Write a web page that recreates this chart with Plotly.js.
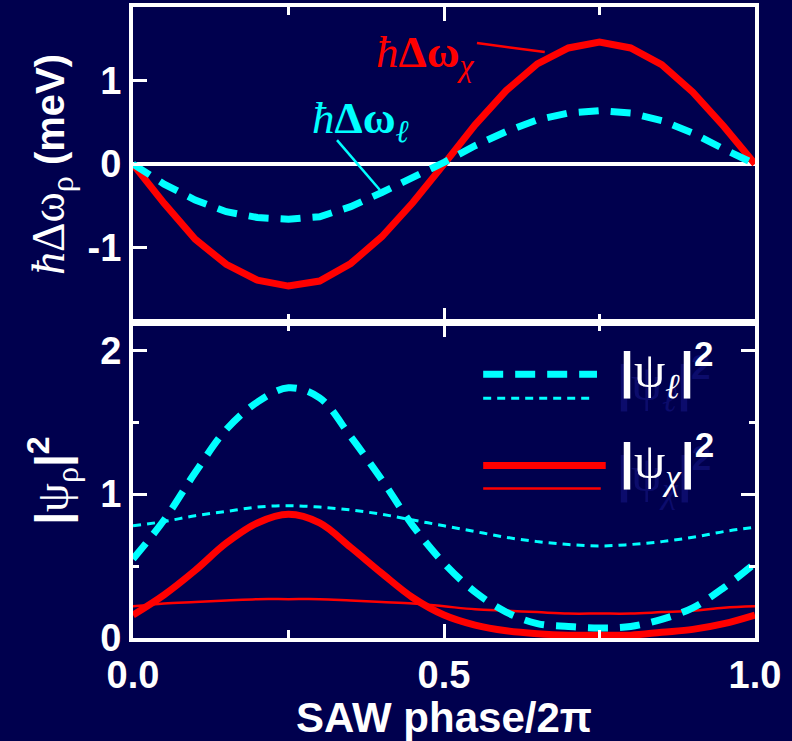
<!DOCTYPE html>
<html>
<head>
<meta charset="utf-8">
<script src="https://cdn.plot.ly/plotly-3.0.1.min.js"></script>
<style>html,body{margin:0;padding:0;background:#00004e;}</style>
</head>
<body>
<div id="chart" style="width:792px;height:741px;"></div>
<script>
// ---- data ----
const phase = [0,0.05,0.1,0.15,0.2,0.25,0.3,0.35,0.4,0.45,0.5,0.55,0.6,0.65,0.7,0.75,0.8,0.85,0.9,0.95,1.0];

// top panel: energy shifts (meV)
const dOmegaChi = [0,-0.47,-0.90,-1.20,-1.39,-1.46,-1.40,-1.19,-0.87,-0.46,0.0,0.47,0.88,1.20,1.39,1.46,1.39,1.19,0.86,0.45,0.0];
const dOmegaEll = [0,-0.24,-0.43,-0.57,-0.64,-0.66,-0.63,-0.51,-0.34,-0.17,0.02,0.22,0.39,0.53,0.61,0.64,0.61,0.52,0.37,0.18,0.0];

// bottom panel: |psi|^2
const psiEllThick = [0.55,0.82,1.15,1.45,1.64,1.74,1.67,1.40,1.10,0.78,0.52,0.32,0.18,0.10,0.08,0.07,0.08,0.13,0.21,0.35,0.52];
const psiEllThin  = [0.78,0.81,0.85,0.88,0.91,0.92,0.91,0.89,0.86,0.82,0.78,0.74,0.70,0.67,0.65,0.64,0.65,0.67,0.70,0.74,0.77];
const psiChiThick = [0.16,0.30,0.47,0.66,0.80,0.86,0.80,0.63,0.45,0.28,0.16,0.09,0.05,0.03,0.02,0.02,0.02,0.04,0.06,0.10,0.16];
const psiChiThin  = [0.22,0.24,0.25,0.26,0.27,0.27,0.27,0.26,0.25,0.24,0.22,0.20,0.19,0.18,0.17,0.17,0.17,0.18,0.19,0.21,0.22];

const xTickVals = [0,0.5,1];
const xTickText = ['0.0','0.5','1.0'];
const yTopTickVals = [-1,0,1];
const yTopTickText = ['-1','0','1'];
const yBotTickVals = [0,1,2];
const yBotTickText = ['0','1','2'];

// ---- styling ----
const BG = '#00004e';
const RED = '#ff0000';
const CYAN = '#00ffff';
const WHITE = '#ffffff';
const SANS = 'Liberation Sans, Arial, sans-serif';
const SERIF = 'Liberation Serif, Times New Roman, serif';
const tickFont = {family: SANS, size: 38, color: WHITE, weight: 'bold'};

const traces = [
  {x: phase, y: dOmegaChi, xaxis: 'x2', yaxis: 'y2', mode: 'lines', line: {color: RED, width: 7}},
  {x: phase, y: dOmegaEll, xaxis: 'x2', yaxis: 'y2', mode: 'lines', line: {color: CYAN, width: 7, dash: '20px,12px'}},
  {x: phase, y: psiChiThin, xaxis: 'x', yaxis: 'y', mode: 'lines', line: {color: RED, width: 2.5, shape: 'spline'}},
  {x: phase, y: psiEllThin, xaxis: 'x', yaxis: 'y', mode: 'lines', line: {color: CYAN, width: 3, dash: '8px,6px', shape: 'spline'}},
  {x: phase, y: psiChiThick, xaxis: 'x', yaxis: 'y', mode: 'lines', line: {color: RED, width: 7, shape: 'spline'}},
  {x: phase, y: psiEllThick, xaxis: 'x', yaxis: 'y', mode: 'lines', line: {color: CYAN, width: 7, dash: '20px,12px', shape: 'spline'}}
];

const axBase = {
  showline: true, linecolor: WHITE, linewidth: 4,
  showgrid: false, zeroline: false,
  ticks: 'inside', tickcolor: WHITE, tickwidth: 3, ticklen: 14,
  tickfont: tickFont
};

const serifSpan = (t) => '<span style="font-family:' + SERIF + ';font-weight:normal">' + t + '</span>';
const legendLabel = (sub) => '|' + serifSpan('ψ') + '<sub>' + serifSpan('<i>' + sub + '</i>') + '</sub>|<sup>2</sup>';

const annFont = (c) => ({family: SANS, size: 50, color: c, weight: 'bold'});

const layout = {
  width: 792, height: 741,
  paper_bgcolor: BG, plot_bgcolor: BG,
  margin: {l: 133, r: 37, t: 7, b: 103},
  showlegend: false,
  xaxis: Object.assign({}, axBase, {
    anchor: 'y', range: [0, 1], tickvals: xTickVals, ticktext: xTickText,
    mirror: 'ticks',
    minor: {dtick: 0.25, ticks: 'inside', ticklen: 8, tickwidth: 3, tickcolor: WHITE},
    title: {text: '\u2002SAW phase/2π', font: {family: SANS, size: 42, color: WHITE, weight: 'bold'}, standoff: 4}
  }),
  yaxis: Object.assign({}, axBase, {
    anchor: 'x', domain: [0, 0.4992], range: [0, 2.19], tickvals: yBotTickVals, ticktext: yBotTickText, mirror: 'ticks',
    minor: {dtick: 0.5, ticks: 'inside', ticklen: 6, tickwidth: 3, tickcolor: WHITE},
    title: {text: '|' + serifSpan('ψ') + '<sub>' + serifSpan('ρ') + '</sub>|<sup>2</sup>',
            font: {family: SANS, size: 46, color: WHITE, weight: 'bold'}, standoff: 18}
  }),
  xaxis2: Object.assign({}, axBase, {
    anchor: 'y2', matches: 'x', range: [0, 1], tickvals: xTickVals, ticktext: xTickText,
    showticklabels: false, mirror: 'ticks',
    minor: {dtick: 0.25, ticks: 'inside', ticklen: 8, tickwidth: 3, tickcolor: WHITE}
  }),
  yaxis2: Object.assign({}, axBase, {
    anchor: 'x2', domain: [0.5008, 1], range: [-1.89, 1.88], tickvals: yTopTickVals, ticktext: yTopTickText, mirror: true,
    zeroline: true, zerolinecolor: WHITE, zerolinewidth: 4,
    title: {text: '<span style="font-family:' + SERIF + ';font-weight:normal;font-size:46px"><i>ħ</i>Δω<sub>ρ</sub></span> (meV)',
            font: {family: SANS, size: 40, color: WHITE, weight: 'bold'}, standoff: 12}
  }),
  shapes: [
    // annotation connectors (top panel)
    {type: 'line', xref: 'x2', yref: 'y2', x0: 0.553, y0: 1.449, x1: 0.662, y1: 1.341, line: {color: RED, width: 2.5}},
    {type: 'line', xref: 'x2', yref: 'y2', x0: 0.328, y0: 0.287, x1: 0.397, y1: -0.311, line: {color: CYAN, width: 2.5}},
    // legend samples (bottom panel)
    {type: 'line', xref: 'x', yref: 'y', x0: 0.563, y0: 1.833, x1: 0.746, y1: 1.833, line: {color: CYAN, width: 7, dash: '20px,12px'}},
    {type: 'line', xref: 'x', yref: 'y', x0: 0.563, y0: 1.667, x1: 0.741, y1: 1.667, line: {color: CYAN, width: 3, dash: '8px,6px'}},
    {type: 'line', xref: 'x', yref: 'y', x0: 0.563, y0: 1.20, x1: 0.760, y1: 1.20, line: {color: RED, width: 7}},
    {type: 'line', xref: 'x', yref: 'y', x0: 0.563, y0: 1.04, x1: 0.752, y1: 1.04, line: {color: RED, width: 2.5}}
  ],
  annotations: [
    {xref: 'x2', yref: 'y2', x: 0.388, y: 1.30, xanchor: 'left', yanchor: 'middle', showarrow: false,
     text: '<i>ħ</i><b>Δω</b><sub><i>χ</i></sub>',
     font: {family: SERIF, size: 45, color: RED}},
    {xref: 'x2', yref: 'y2', x: 0.285, y: 0.52, xanchor: 'left', yanchor: 'middle', showarrow: false,
     text: '<i>ħ</i><b>Δω</b><sub><i>ℓ</i></sub>',
     font: {family: SERIF, size: 45, color: CYAN}},
    // legend label shadows
    {xref: 'x', yref: 'y', x: 0.78, y: 1.86, xanchor: 'left', yanchor: 'middle', showarrow: false,
     xshift: -3, yshift: -13, text: legendLabel('ℓ'), font: annFont('#0c0c6c')},
    {xref: 'x', yref: 'y', x: 0.78, y: 1.23, xanchor: 'left', yanchor: 'middle', showarrow: false,
     xshift: -3, yshift: -13, text: legendLabel('χ'), font: annFont('#0c0c6c')},
    // legend labels
    {xref: 'x', yref: 'y', x: 0.78, y: 1.86, xanchor: 'left', yanchor: 'middle', showarrow: false,
     text: legendLabel('ℓ'), font: annFont(WHITE)},
    {xref: 'x', yref: 'y', x: 0.78, y: 1.23, xanchor: 'left', yanchor: 'middle', showarrow: false,
     text: legendLabel('χ'), font: annFont(WHITE)}
  ]
};

Plotly.newPlot('chart', traces, layout, {staticPlot: true, displayModeBar: false});
</script>
</body>
</html>
